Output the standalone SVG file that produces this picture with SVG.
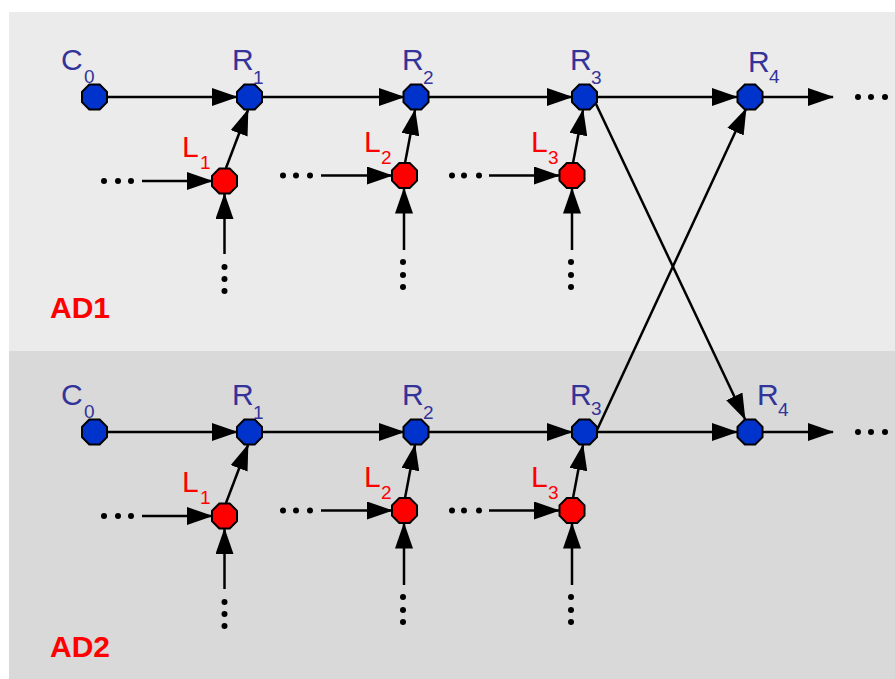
<svg xmlns="http://www.w3.org/2000/svg" width="895" height="679" viewBox="0 0 895 679">
<style>
.bl{fill:#0033cc;stroke:#000;stroke-width:2}
.rd{fill:#ff0000;stroke:#000;stroke-width:2}
.tb{fill:#333399;font-family:"Liberation Sans",Arial,sans-serif;font-size:30px}
.tr{fill:#ff0000;font-family:"Liberation Sans",Arial,sans-serif;font-size:30px}
.sb{font-size:19px}
.ad{fill:#ff0000;font-family:"Liberation Sans",Arial,sans-serif;font-size:30px;font-weight:bold}
.e{stroke:#000;stroke-width:2.5;fill:none;marker-end:url(#ah)}
.d{fill:#000}
</style>
<defs>
<marker id="ah" markerWidth="26" markerHeight="18" refX="25" refY="9" orient="auto" markerUnits="userSpaceOnUse"><path d="M0,0 L26,9 L0,18 z" fill="#000"/></marker>
<polygon id="oct" points="-5.2,-12.5 5.2,-12.5 12.5,-5.2 12.5,5.2 5.2,12.5 -5.2,12.5 -12.5,5.2 -12.5,-5.2"/>
</defs>
<rect x="0" y="0" width="895" height="679" fill="#ffffff"/>
<rect x="9" y="12" width="886" height="339" fill="#ebebeb"/>
<rect x="9" y="351" width="886" height="328" fill="#d9d9d9"/>

<g id="connectors">
<line class="e" x1="107" y1="97" x2="237" y2="97"/>
<line class="e" x1="262" y1="97" x2="404" y2="97"/>
<line class="e" x1="428" y1="97" x2="572" y2="97"/>
<line class="e" x1="597" y1="97" x2="737" y2="97"/>
<line class="e" x1="762" y1="97" x2="833" y2="97"/>
<line class="e" x1="142" y1="181" x2="212" y2="181"/>
<line class="e" x1="321" y1="175.5" x2="392" y2="175.5"/>
<line class="e" x1="489" y1="175.5" x2="559" y2="175.5"/>
<line class="e" x1="224.5" y1="254" x2="224.5" y2="194"/>
<line class="e" x1="404" y1="250" x2="404" y2="188.5"/>
<line class="e" x1="572" y1="250" x2="572" y2="188.5"/>
<line class="e" x1="226" y1="168" x2="248" y2="110"/>
<line class="e" x1="405" y1="163" x2="415" y2="110"/>
<line class="e" x1="573" y1="163" x2="583" y2="110"/>
<line class="e" x1="107" y1="432" x2="237" y2="432"/>
<line class="e" x1="262" y1="432" x2="404" y2="432"/>
<line class="e" x1="428" y1="432" x2="572" y2="432"/>
<line class="e" x1="597" y1="432" x2="737" y2="432"/>
<line class="e" x1="762" y1="432" x2="833" y2="432"/>
<line class="e" x1="142" y1="516" x2="212" y2="516"/>
<line class="e" x1="321" y1="510.5" x2="392" y2="510.5"/>
<line class="e" x1="489" y1="510.5" x2="559" y2="510.5"/>
<line class="e" x1="224.5" y1="589" x2="224.5" y2="529"/>
<line class="e" x1="404" y1="585" x2="404" y2="523.5"/>
<line class="e" x1="572" y1="585" x2="572" y2="523.5"/>
<line class="e" x1="226" y1="503" x2="248" y2="445"/>
<line class="e" x1="405" y1="498" x2="415" y2="445"/>
<line class="e" x1="573" y1="498" x2="583" y2="445"/>
<line class="e" x1="596" y1="104" x2="745" y2="419"/>
<line class="e" x1="597" y1="430" x2="746" y2="109"/>
</g>

<g id="dots">
<circle class="d" cx="104" cy="181" r="3"/><circle class="d" cx="118" cy="181" r="3"/><circle class="d" cx="131" cy="181" r="3"/>
<circle class="d" cx="283" cy="175.5" r="3"/><circle class="d" cx="296" cy="175.5" r="3"/><circle class="d" cx="310" cy="175.5" r="3"/>
<circle class="d" cx="452" cy="175.5" r="3"/><circle class="d" cx="464" cy="175.5" r="3"/><circle class="d" cx="479" cy="175.5" r="3"/>
<circle class="d" cx="224.5" cy="267" r="3"/><circle class="d" cx="224.5" cy="279" r="3"/><circle class="d" cx="224.5" cy="291" r="3"/>
<circle class="d" cx="403" cy="262" r="3"/><circle class="d" cx="403" cy="275" r="3"/><circle class="d" cx="403" cy="287" r="3"/>
<circle class="d" cx="571" cy="262" r="3"/><circle class="d" cx="571" cy="275" r="3"/><circle class="d" cx="571" cy="287" r="3"/>
<circle class="d" cx="858" cy="97" r="3"/><circle class="d" cx="871" cy="97" r="3"/><circle class="d" cx="885" cy="97" r="3"/>
<circle class="d" cx="104" cy="516" r="3"/><circle class="d" cx="118" cy="516" r="3"/><circle class="d" cx="131" cy="516" r="3"/>
<circle class="d" cx="283" cy="510.5" r="3"/><circle class="d" cx="296" cy="510.5" r="3"/><circle class="d" cx="310" cy="510.5" r="3"/>
<circle class="d" cx="452" cy="510.5" r="3"/><circle class="d" cx="464" cy="510.5" r="3"/><circle class="d" cx="479" cy="510.5" r="3"/>
<circle class="d" cx="224.5" cy="602" r="3"/><circle class="d" cx="224.5" cy="614" r="3"/><circle class="d" cx="224.5" cy="626" r="3"/>
<circle class="d" cx="403" cy="597" r="3"/><circle class="d" cx="403" cy="610" r="3"/><circle class="d" cx="403" cy="622" r="3"/>
<circle class="d" cx="571" cy="597" r="3"/><circle class="d" cx="571" cy="610" r="3"/><circle class="d" cx="571" cy="622" r="3"/>
<circle class="d" cx="858" cy="432" r="3"/><circle class="d" cx="871" cy="432" r="3"/><circle class="d" cx="885" cy="432" r="3"/>
</g>

<g id="ad1-C0"><use href="#oct" class="bl" x="94.5" y="97"/><text class="tb" x="61" y="70">C<tspan class="sb" x="84" y="83">0</tspan></text></g>
<g id="ad1-R1"><use href="#oct" class="bl" x="249.5" y="97"/><text class="tb" x="232" y="70">R<tspan class="sb" x="253" y="84">1</tspan></text></g>
<g id="ad1-R2"><use href="#oct" class="bl" x="416" y="97"/><text class="tb" x="402" y="70">R<tspan class="sb" x="423" y="84">2</tspan></text></g>
<g id="ad1-R3"><use href="#oct" class="bl" x="584.5" y="97"/><text class="tb" x="570" y="70">R<tspan class="sb" x="591" y="84">3</tspan></text></g>
<g id="ad1-R4"><use href="#oct" class="bl" x="750" y="97"/><text class="tb" x="748" y="72">R<tspan class="sb" x="769" y="83">4</tspan></text></g>
<g id="ad1-L1"><use href="#oct" class="rd" x="224.5" y="181"/><text class="tr" x="182" y="157">L<tspan class="sb" x="200" y="169">1</tspan></text></g>
<g id="ad1-L2"><use href="#oct" class="rd" x="404.5" y="175.5"/><text class="tr" x="364" y="152">L<tspan class="sb" x="381" y="164">2</tspan></text></g>
<g id="ad1-L3"><use href="#oct" class="rd" x="572" y="175.5"/><text class="tr" x="531" y="152">L<tspan class="sb" x="548" y="164">3</tspan></text></g>

<g id="ad2-C0"><use href="#oct" class="bl" x="94.5" y="432"/><text class="tb" x="61" y="405">C<tspan class="sb" x="84" y="418">0</tspan></text></g>
<g id="ad2-R1"><use href="#oct" class="bl" x="249.5" y="432"/><text class="tb" x="232" y="405">R<tspan class="sb" x="253" y="419">1</tspan></text></g>
<g id="ad2-R2"><use href="#oct" class="bl" x="416" y="432"/><text class="tb" x="402" y="405">R<tspan class="sb" x="423" y="419">2</tspan></text></g>
<g id="ad2-R3"><use href="#oct" class="bl" x="584.5" y="432"/><text class="tb" x="570" y="405">R<tspan class="sb" x="591" y="415">3</tspan></text></g>
<g id="ad2-R4"><use href="#oct" class="bl" x="750" y="432"/><text class="tb" x="757" y="405">R<tspan class="sb" x="778" y="416">4</tspan></text></g>
<g id="ad2-L1"><use href="#oct" class="rd" x="224.5" y="516"/><text class="tr" x="182" y="492">L<tspan class="sb" x="200" y="504">1</tspan></text></g>
<g id="ad2-L2"><use href="#oct" class="rd" x="404.5" y="510.5"/><text class="tr" x="364" y="487">L<tspan class="sb" x="381" y="499">2</tspan></text></g>
<g id="ad2-L3"><use href="#oct" class="rd" x="572" y="510.5"/><text class="tr" x="531" y="487">L<tspan class="sb" x="548" y="499">3</tspan></text></g>

<text class="ad" x="50" y="318">AD1</text>
<text class="ad" x="50" y="657">AD2</text>
</svg>
